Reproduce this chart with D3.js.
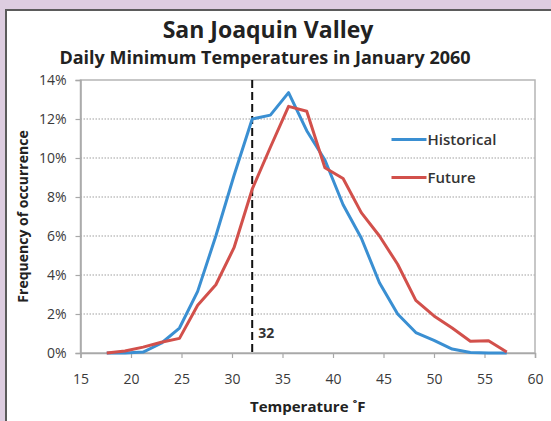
<!DOCTYPE html>
<html>
<head>
<meta charset="utf-8">
<script src="https://cdn.jsdelivr.net/npm/d3@7"></script>
<style>
  html, body { margin: 0; padding: 0; background: #ddcde0; }
  svg { display: block; font-family: "Open Sans", sans-serif; }
</style>
</head>
<body>
<div id="chart"></div>
<script>
// temperature bins (deg F, 1 deg C apart)
const temps = [17.6, 19.4, 21.2, 23.0, 24.8, 26.6, 28.4, 30.2, 32.0, 33.8, 35.6, 37.4,
    39.2, 41.0, 42.8, 44.6, 46.4, 48.2, 50.0, 51.8, 53.6, 55.4, 57.2];
// frequency of occurrence, percent
const historical = [0, 0, 0.05, 0.5, 1.28, 3.16, 6.0, 9.1, 12.0, 12.2, 13.35, 11.4,
    9.9, 7.6, 5.9, 3.6, 2.0, 1.05, 0.65, 0.2, 0.03, 0, 0];
const future = [0, 0.1, 0.3, 0.55, 0.75, 2.45, 3.5, 5.4, 8.4, 10.55, 12.65, 12.4,
    9.5, 8.95, 7.2, 6.0, 4.55, 2.7, 1.9, 1.28, 0.6, 0.63, 0.05];
const xTicks = [15, 20, 25, 30, 35, 40, 45, 50, 55, 60];
const yTicks = [0, 2, 4, 6, 8, 10, 12, 14];
const freezing = 32;
const seriesNames = ['Historical', 'Future'];
const seriesColors = ['#3a8fd2', '#d2504b'];

const W = 551, H = 421;
const MARGIN = { TOP: 80, BOTTOM: 68, LEFT: 80.5, RIGHT: 16 };
const WIDTH = W - MARGIN.LEFT - MARGIN.RIGHT;
const HEIGHT = H - MARGIN.TOP - MARGIN.BOTTOM;

const svg = d3.select('#chart')
    .append('svg')
    .attr('width', W)
    .attr('height', H);

// white panel with dark frame
svg.append('rect')
    .attr('x', 6).attr('y', 10)
    .attr('width', W).attr('height', H)
    .attr('fill', '#fff')
    .attr('stroke', '#5b5b5b')
    .attr('stroke-width', 2);

svg.append('text')
    .attr('x', 268).attr('y', 38)
    .attr('text-anchor', 'middle')
    .attr('font-size', 23).attr('font-weight', 'bold')
    .attr('fill', '#222')
    .text('San Joaquin Valley');

svg.append('text')
    .attr('x', 265).attr('y', 64)
    .attr('text-anchor', 'middle')
    .attr('font-size', 18).attr('font-weight', 'bold')
    .attr('fill', '#222')
    .text('Daily Minimum Temperatures in January 2060');

const g = svg.append('g')
    .attr('transform', `translate(${MARGIN.LEFT}, ${MARGIN.TOP})`);

const x = d3.scaleLinear().domain([15, 60]).range([0, WIDTH]);
const y = d3.scaleLinear().domain([0, 14]).range([HEIGHT, 0]);

// dotted gridlines
g.selectAll('line.grid')
    .data(yTicks.filter(d => d > 0 && d < 14))
    .enter()
    .append('line')
    .attr('class', 'grid')
    .attr('x1', 0).attr('x2', WIDTH)
    .attr('y1', d => y(d)).attr('y2', d => y(d))
    .attr('stroke', '#a0a0a0')
    .attr('stroke-width', 1.2)
    .attr('stroke-dasharray', '1.5,1.5');

// plot border
g.append('rect')
    .attr('width', WIDTH).attr('height', HEIGHT)
    .attr('fill', 'none')
    .attr('stroke', '#b5b5b5')
    .attr('stroke-width', 1.5);

// axes
const xAxisCall = d3.axisBottom(x).tickValues(xTicks).tickSize(5).tickPadding(16);
const xAxisGroup = g.append('g')
    .attr('transform', `translate(0, ${HEIGHT})`)
    .call(xAxisCall);

const yAxisCall = d3.axisLeft(y).tickValues(yTicks).tickSize(5).tickPadding(9)
    .tickFormat(d => d + '%');
const yAxisGroup = g.append('g').call(yAxisCall);

[xAxisGroup, yAxisGroup].forEach(ax => {
    ax.select('.domain').attr('stroke', '#a8a8a8').attr('stroke-width', 1.5);
    ax.selectAll('.tick line').attr('stroke', '#a8a8a8').attr('stroke-width', 1.2);
    ax.selectAll('.tick text')
        .attr('fill', '#3a3a3a')
        .attr('font-size', 14)
        .attr('font-family', '"Open Sans", sans-serif');
});

// 32 F line
g.append('line')
    .attr('x1', x(freezing)).attr('x2', x(freezing))
    .attr('y1', 0).attr('y2', HEIGHT)
    .attr('stroke', '#111')
    .attr('stroke-width', 2)
    .attr('stroke-dasharray', '8,4');

g.append('text')
    .attr('x', x(freezing) + 6)
    .attr('y', y(0.75))
    .attr('font-size', 14).attr('font-weight', 'bold')
    .attr('fill', '#333')
    .text(freezing);

// series lines
const line = d3.line()
    .x((d, i) => x(temps[i]))
    .y(d => y(d));

[historical, future].forEach((vals, i) => {
    g.append('path')
        .datum(vals)
        .attr('fill', 'none')
        .attr('stroke', seriesColors[i])
        .attr('stroke-width', 3)
        .attr('stroke-linejoin', 'round')
        .attr('d', line);
});

// legend
const legend = g.selectAll('g.legend')
    .data(seriesNames)
    .enter()
    .append('g')
    .attr('class', 'legend')
    .attr('transform', (d, i) => `translate(${391.5 - MARGIN.LEFT}, ${139.5 - MARGIN.TOP + i * 38})`);

legend.append('line')
    .attr('x1', 0).attr('x2', 35)
    .attr('stroke', (d, i) => seriesColors[i])
    .attr('stroke-width', 3);

legend.append('text')
    .attr('x', 36).attr('y', 5.5)
    .attr('font-size', 15).attr('font-weight', 600)
    .attr('fill', '#333')
    .text(d => d);

// axis titles
g.append('text')
    .attr('x', x(37.5))
    .attr('y', HEIGHT + 59)
    .attr('text-anchor', 'middle')
    .attr('font-size', 15).attr('font-weight', 'bold')
    .attr('fill', '#222')
    .text('Temperature ˚F');

g.append('text')
    .attr('x', -HEIGHT / 2)
    .attr('y', -53)
    .attr('text-anchor', 'middle')
    .attr('transform', 'rotate(-90)')
    .attr('font-size', 14).attr('font-weight', 'bold')
    .attr('fill', '#222')
    .text('Frequency of occurrence');
</script>
</body>
</html>
